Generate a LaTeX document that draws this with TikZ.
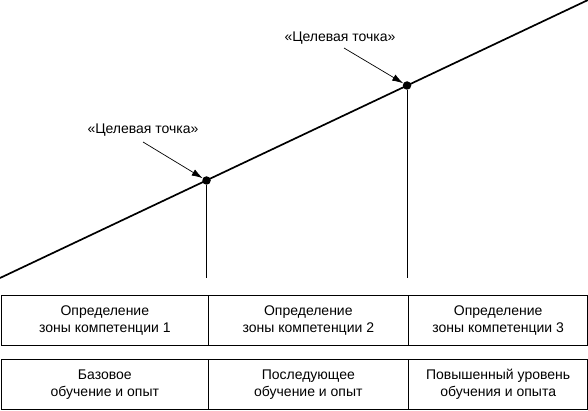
\documentclass[tikz,border=0pt]{standalone}
\usepackage{fontspec}
\setmainfont{Liberation Sans}
\usetikzlibrary{arrows.meta}

\begin{document}
\begin{tikzpicture}[x=1pt, y=1pt, font=\fontsize{14}{17}\selectfont]
        \useasboundingbox (0, 0) rectangle (588, 410);
        \begin{scope}
            \coordinate (L0) at (0, 132);
            \coordinate (L1) at (588, 410);
            \draw [line width=1.7pt] (L0) -- (L1);

            \node [circle, fill, inner sep=0pt, minimum size=8.5pt] (Pa) at (206.5, 229.5) {};
            \node [circle, fill, inner sep=0pt, minimum size=8.5pt] (Pb) at (407, 324.5) {};

            \coordinate (Ba) at (206.5, 132);
            \coordinate (Bb) at (407, 132);
            \draw [line width=0.8pt] (Pa) -- (Ba);
            \draw [line width=0.8pt] (Pb) -- (Bb);

            \node [anchor=center] (Ta) at (143, 280) {«Целевая точка»};
            \node [anchor=center] (Tb) at (340, 372) {«Целевая точка»};

            \draw [line width=0.7pt, -{Latex[length=11pt, width=7pt]}] (143, 268) -- (Pa);
            \draw [line width=0.7pt, -{Latex[length=11pt, width=7pt]}] (344, 362) -- (Pb);

            \node [draw, line width=1.3pt, anchor=north west, minimum width=207pt, minimum height=50pt, align=center, inner sep=0pt] (Z1) at (0.7, 115) {Определение\\зоны компетенции 1};
            \node [draw, line width=1.3pt, anchor=north west, minimum width=200pt, minimum height=50pt, align=center, inner sep=0pt] (Z2) at (207.7, 115) {Определение\\зоны компетенции 2};
            \node [draw, line width=1.3pt, anchor=north west, minimum width=179.6pt, minimum height=50pt, align=center, inner sep=0pt] (Z3) at (407.7, 115) {Определение\\зоны компетенции 3};

            \node [draw, line width=1.3pt, anchor=north west, minimum width=207pt, minimum height=50pt, align=center, inner sep=0pt] (O1) at (0.7, 51) {Базовое\\обучение и опыт};
            \node [draw, line width=1.3pt, anchor=north west, minimum width=200pt, minimum height=50pt, align=center, inner sep=0pt] (O2) at (207.7, 51) {Последующее\\обучение и опыт};
            \node [draw, line width=1.3pt, anchor=north west, minimum width=179.6pt, minimum height=50pt, align=center, inner sep=0pt] (O3) at (407.7, 51) {Повышенный уровень\\обучения и опыта};
        \end{scope}
    \end{tikzpicture}
\end{document}
